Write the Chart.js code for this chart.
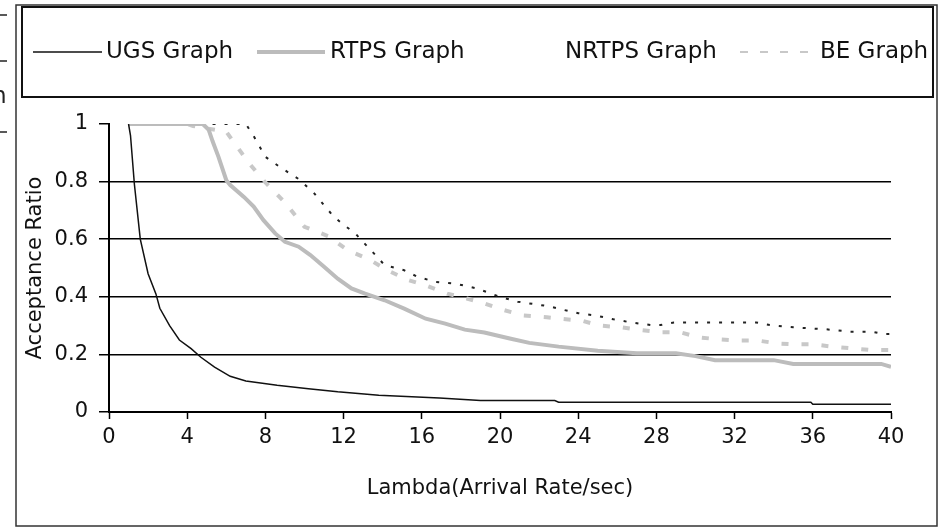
<!DOCTYPE html>
<html>
<head>
<meta charset="utf-8">
<script src="https://cdn.jsdelivr.net/npm/chart.js@4"></script>
<style>
  html, body { margin: 0; padding: 0; background: #fff; }
  #wrap { width: 945px; height: 529px; position: relative; }
</style>
</head>
<body>
<div id="wrap"><canvas id="ratioChart"></canvas></div>
<script>
// series: lambda (x) and acceptance ratio (y)
const ugsLambda = [1, 1.1, 1.3, 1.6, 2, 2.4, 2.6, 3.1, 3.6, 4.2, 4.7, 5.4, 6.2, 7, 8.6, 10.2, 11.7, 13.8, 16.9, 19, 22.8, 23, 35.9, 36, 40];
const ugsRatio = [1, 0.96, 0.79, 0.6, 0.48, 0.41, 0.36, 0.3, 0.25, 0.22, 0.19, 0.156, 0.124, 0.108, 0.093, 0.081, 0.07, 0.058, 0.049, 0.04, 0.04, 0.034, 0.034, 0.027, 0.027];

const rtpsLambda = [1, 4.8, 5.1, 5.3, 5.6, 6, 6.2, 6.9, 7.4, 7.9, 8.5, 9, 9.7, 10.3, 11, 11.7, 12.4, 13.1, 14.1, 15.1, 16.2, 17.2, 18.2, 19.2, 20.5, 21.5, 23, 25, 27, 29, 30, 31, 34, 35, 39.5, 40];
const rtpsRatio = [1, 1, 0.98, 0.94, 0.886, 0.805, 0.788, 0.747, 0.713, 0.666, 0.62, 0.591, 0.574, 0.545, 0.504, 0.463, 0.429, 0.411, 0.388, 0.359, 0.324, 0.307, 0.286, 0.276, 0.255, 0.24, 0.227, 0.213, 0.204, 0.204, 0.194, 0.18, 0.18, 0.167, 0.167, 0.157];

const nrtpsLambda = [1, 7, 7.4, 8, 8.8, 9.7, 10.5, 11, 11.5, 12.1, 12.6, 13.1, 13.6, 14.1, 15.1, 15.8, 16.7, 17.7, 18.8, 20, 20.9, 22.6, 23.1, 24, 24.9, 25.8, 26.7, 27.7, 28.2, 28.9, 33.1, 33.8, 35, 36.7, 37.9, 39, 39.6, 40];
const nrtpsRatio = [1, 1, 0.958, 0.886, 0.848, 0.809, 0.759, 0.718, 0.678, 0.645, 0.62, 0.583, 0.547, 0.51, 0.492, 0.469, 0.452, 0.446, 0.429, 0.4, 0.383, 0.366, 0.357, 0.343, 0.335, 0.322, 0.311, 0.302, 0.302, 0.311, 0.311, 0.302, 0.294, 0.287, 0.279, 0.279, 0.271, 0.271];

const beLambda = [1, 4, 4.3, 6, 6.8, 7.1, 8, 9, 10, 11.2, 12.2, 13.3, 14.3, 15.3, 16.2, 17.3, 18.3, 19.2, 20.2, 21.2, 22.4, 23.2, 24.2, 25.1, 26.2, 27.1, 28.2, 29.2, 30.2, 31.2, 32.2, 33.2, 34.2, 35.2, 36, 37, 38, 39, 40];
const beRatio = [1, 1, 0.993, 0.973, 0.898, 0.869, 0.797, 0.727, 0.643, 0.611, 0.562, 0.53, 0.49, 0.458, 0.44, 0.411, 0.394, 0.377, 0.354, 0.335, 0.329, 0.323, 0.317, 0.3, 0.294, 0.285, 0.277, 0.277, 0.259, 0.252, 0.248, 0.248, 0.238, 0.235, 0.235, 0.227, 0.221, 0.215, 0.215];

const seriesNames = ["UGS Graph", "RTPS Graph", "NRTPS Graph", "BE Graph"];
const xTitle = "Lambda(Arrival Rate/sec)";
const yTitle = "Acceptance Ratio";

const FONT = "'DejaVu Sans', sans-serif";

function pairs(xs, ys) {
  return xs.map((x, i) => ({ x: x, y: ys[i] }));
}

// frame, hand-placed legend and the cropped marks on the left edge
const framePlugin = {
  id: "frame",
  beforeDraw(chart) {
    const ctx = chart.ctx;
    ctx.save();
    ctx.fillStyle = "#fff";
    ctx.fillRect(0, 0, chart.width, chart.height);
    ctx.restore();
  },
  afterDraw(chart) {
    const ctx = chart.ctx;
    const ds = chart.data.datasets;
    ctx.save();
    // outer frame
    ctx.strokeStyle = "#333";
    ctx.lineWidth = 1.5;
    ctx.strokeRect(16, 5, 921, 521);
    // legend box
    ctx.strokeStyle = "#111";
    ctx.lineWidth = 2;
    ctx.strokeRect(22, 7, 911, 90);

    const items = [
      { i: 0, from: 33, to: 102, textX: 106 },
      { i: 1, from: 257, to: 325, textX: 330 },
      { i: 2, from: null, to: null, textX: 565 },
      { i: 3, from: 740, to: 812, textX: 820, width: 2, dash: [8, 12] },
    ];
    const y = 52;
    ctx.font = "23px " + FONT;
    ctx.textBaseline = "middle";
    ctx.textAlign = "left";
    items.forEach((it) => {
      const d = ds[it.i];
      if (it.from !== null) {
        ctx.beginPath();
        ctx.strokeStyle = d.borderColor;
        ctx.lineWidth = it.width || d.borderWidth;
        ctx.setLineDash(it.dash || d.borderDash || []);
        ctx.moveTo(it.from, y);
        ctx.lineTo(it.to, y);
        ctx.stroke();
        ctx.setLineDash([]);
      }
      ctx.fillStyle = "#111";
      ctx.fillText(d.label, it.textX, y);
    });

    // bits of a neighbouring figure cut off at the left edge
    ctx.strokeStyle = "#222";
    ctx.lineWidth = 1.5;
    [15, 61, 132].forEach((ly) => {
      ctx.beginPath();
      ctx.moveTo(0, ly);
      ctx.lineTo(7, ly);
      ctx.stroke();
    });
    ctx.fillStyle = "#222";
    ctx.fillText("h", -8, 97);
    ctx.restore();
  },
};

const ctx = document.getElementById("ratioChart").getContext("2d");
new Chart(ctx, {
  type: "line",
  data: {
    datasets: [
      {
        label: seriesNames[0],
        data: pairs(ugsLambda, ugsRatio),
        borderColor: "#111",
        borderWidth: 1.5,
      },
      {
        label: seriesNames[1],
        data: pairs(rtpsLambda, rtpsRatio),
        borderColor: "#bcbcbc",
        borderWidth: 4,
      },
      {
        label: seriesNames[2],
        data: pairs(nrtpsLambda, nrtpsRatio),
        borderColor: "#222",
        borderWidth: 2,
        borderDash: [3, 9],
      },
      {
        label: seriesNames[3],
        data: pairs(beLambda, beRatio),
        borderColor: "#c8c8c8",
        borderWidth: 4,
        borderDash: [7, 13],
      },
    ],
  },
  options: {
    responsive: true,
    maintainAspectRatio: false,
    animation: false,
    layout: { padding: { top: 124, left: 0, right: 54, bottom: 0 } },
    elements: {
      point: { radius: 0 },
      line: { tension: 0 },
    },
    plugins: {
      legend: { display: false },
      tooltip: { enabled: false },
    },
    scales: {
      x: {
        type: "linear",
        min: 0,
        max: 40,
        ticks: {
          stepSize: 4,
          padding: 6,
          color: "#111",
          font: { family: FONT, size: 21 },
          maxRotation: 0,
        },
        grid: {
          drawOnChartArea: false,
          tickLength: 7,
          tickColor: "#000",
          tickWidth: 1.5,
        },
        border: { color: "#000", width: 2 },
        title: {
          display: true,
          text: xTitle,
          color: "#111",
          font: { family: FONT, size: 21 },
          padding: { top: 0, bottom: 28 },
        },
        afterFit(scale) {
          scale.height = 117;
        },
      },
      y: {
        min: 0,
        max: 1,
        ticks: {
          stepSize: 0.2,
          padding: 11,
          color: "#111",
          font: { family: FONT, size: 21 },
          callback: (v) => String(Number(v.toFixed(1))),
        },
        grid: {
          color: (c) => (c.tick && c.tick.value === 1 ? "rgba(0,0,0,0)" : "#000"),
          lineWidth: 1.5,
          tickLength: 10,
          tickColor: "#000",
          tickWidth: 1.5,
        },
        border: { color: "#000", width: 2 },
        title: {
          display: true,
          text: yTitle,
          color: "#111",
          font: { family: FONT, size: 21 },
          padding: { top: 23, bottom: 0 },
        },
        afterFit(scale) {
          scale.width = 109;
        },
      },
    },
  },
  plugins: [framePlugin],
});
</script>
</body>
</html>
